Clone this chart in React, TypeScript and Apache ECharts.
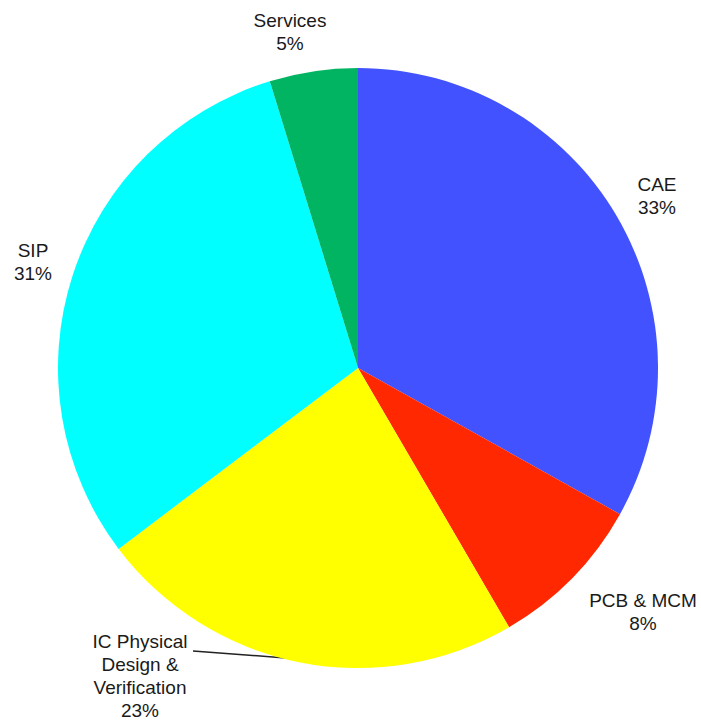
import React, { useEffect, useRef } from "react";
import * as echarts from "echarts";

const names = ["CAE", "PCB & MCM", "IC Physical\nDesign &\nVerification", "SIP", "Services"];
const values = [33.1, 8.5, 23.1, 30.55, 4.75];
const pctLabels = ["33%", "8%", "23%", "31%", "5%"];
const colors = ["#4352FF", "#FF2800", "#FFFF00", "#00FFFF", "#00B462"];

const labelPos: [number, number][] = [
  [657, 196],
  [643, 612],
  [140, 676],
  [33, 262],
  [290, 32],
];

export default function App() {
  const ref = useRef<HTMLDivElement>(null);
  useEffect(() => {
    if (!ref.current) return;
    const chart = echarts.init(ref.current, null, { renderer: "svg" });
    chart.setOption({
      animation: false,
      backgroundColor: "#ffffff",
      series: [
        {
          type: "pie",
          center: [358, 368],
          radius: [0, 300],
          startAngle: 90,
          clockwise: true,
          avoidLabelOverlap: false,
          data: names.map((n, i) => ({
            name: n,
            value: values[i],
            itemStyle: { color: colors[i] },
            labelLine: { show: i === 2 },
          })),
          label: {
            show: true,
            position: "outside",
            formatter: (p: any) => names[p.dataIndex] + "\n" + pctLabels[p.dataIndex],
            fontFamily: "Liberation Sans, Arial, sans-serif",
            fontSize: 19,
            lineHeight: 23,
            color: "#1a1a1a",
            align: "center",
          },
          labelLine: {
            lineStyle: { color: "#222", width: 1.5 },
          },
          labelLayout: (p: any) => {
            const [x, y] = labelPos[p.dataIndex];
            const res: any = { x, y, align: "center", verticalAlign: "middle" };
            if (p.dataIndex === 2) {
              res.labelLinePoints = [
                [298, 659],
                [246, 655],
                [193, 651],
              ];
            }
            return res;
          },
          emphasis: { disabled: true },
        },
      ],
    });
    return () => chart.dispose();
  }, []);
  return (
    <div
      ref={ref}
      style={{ position: "absolute", left: 0, top: 0, width: 701, height: 722 }}
    />
  );
}
